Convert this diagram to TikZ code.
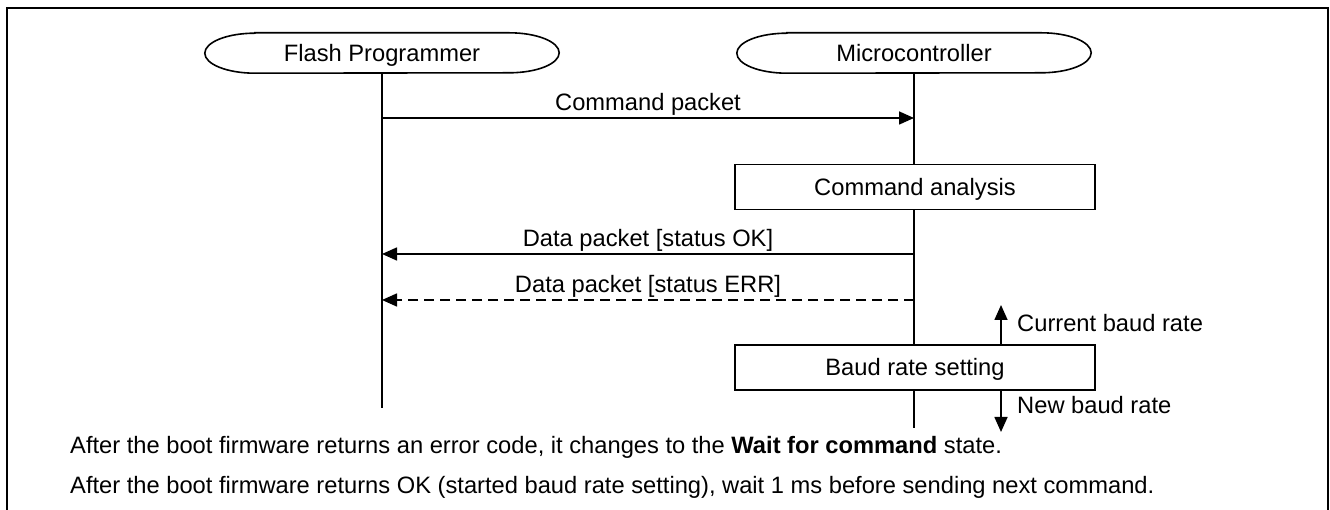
\documentclass[tikz,border=0pt]{standalone}
\usepackage{fontspec}
\setmainfont{Liberation Sans}
\usetikzlibrary{arrows.meta}
\newcommand\actorshape[1]{\draw[ln] ([xshift=50pt]#1.north west) -- ([xshift=-50pt]#1.north east) arc[start angle=90,end angle=-90,x radius=50pt,y radius=20pt] -- ([xshift=50pt]#1.south west) arc[start angle=270,end angle=90,x radius=50pt,y radius=20pt] -- cycle;}
\begin{document}
\begin{tikzpicture}[x=1pt,y=1pt,
  every node/.style={font=\fontsize{23.7}{28}\selectfont},
  ln/.style={line width=1.6pt},
  arr/.style={ln,-{Triangle[length=15pt,width=13pt]}},
  actor/.style={minimum width=354pt,minimum height=40pt,inner sep=0pt,text height=17pt,text depth=0pt},
  procbox/.style={draw,ln,fill=white,minimum width=360pt,minimum height=45pt,inner sep=0pt,text height=17pt,text depth=0pt},
  lbl/.style={anchor=base,yshift=7pt},
  txt/.style={anchor=base west,inner sep=0pt},
  errline/.style={dash pattern=on 10pt off 6pt}
]
\useasboundingbox (0,0) rectangle (1330,510);
\draw[line width=2.4pt] (7,0) -- (7,502) -- (1328,502) -- (1328,0);

% actors
\node[actor] (fp) at (382,457) {Flash Programmer};
\node[actor] (mc) at (914,457) {Microcontroller};
\actorshape{fp}
\actorshape{mc}

% lifelines
\coordinate (fpEnd) at (382,102);
\coordinate (mcEnd) at (914,82);
\draw[ln] (fp.south) -- (fpEnd);
\draw[ln] (mc.south) -- (mcEnd);

% process boxes
\node[procbox] (ca) at (915,323) {Command analysis};
\node[procbox] (br) at (915,142.5) {Baud rate setting};

% messages
\coordinate (fp1) at (382,392); \coordinate (mc1) at (914,392);
\draw[arr] (fp1) -- (mc1) node[midway,lbl] {Command packet};
\coordinate (fp2) at (382,256); \coordinate (mc2) at (914,256);
\draw[arr] (mc2) -- (fp2) node[midway,lbl] {Data packet [status OK]};
\coordinate (fp3) at (382,210); \coordinate (mc3) at (914,210);
\draw[arr,errline] (mc3) -- (fp3) node[midway,lbl] {Data packet [status ERR]};

% baud rate arrows
\coordinate (cb) at (1001,205);
\coordinate (nb) at (1001,78);
\draw[arr] (br.north -| cb) -- (cb);
\draw[arr] (br.south -| nb) -- (nb);
\node[txt] (cbl) at (1017,178.5) {Current baud rate};
\node[txt] (nbl) at (1017,96.5) {New baud rate};

% notes
\node[txt] (t1) at (70,56) {After the boot firmware returns an error code, it changes to the \textbf{Wait for command} state.};
\node[txt] (t2) at (70,16) {After the boot firmware returns OK (started baud rate setting), wait 1 ms before sending next command.};
\end{tikzpicture}
\end{document}
